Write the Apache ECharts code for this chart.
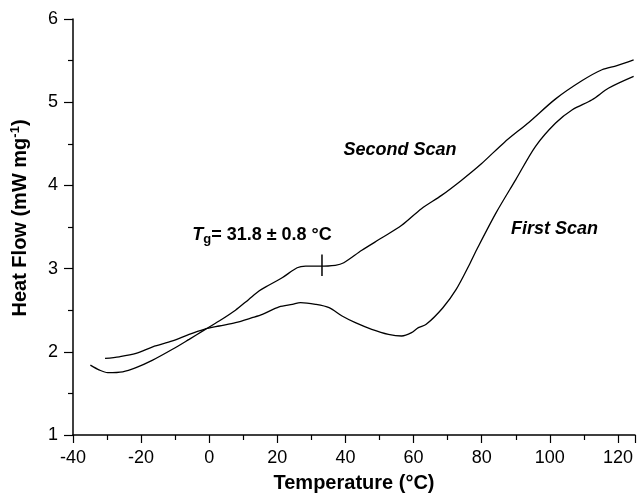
<!DOCTYPE html>
<html>
<head>
<meta charset="utf-8">
<script src="https://cdn.jsdelivr.net/npm/echarts@6/dist/echarts.min.js"></script>
<style>
html,body{margin:0;padding:0;background:#fff;}
#c{width:638px;height:498px;}
</style>
</head>
<body>
<div id="c"></div>
<script>
// First scan (°C, mW mg-1)
var firstScanT = [-30.6,-26.4,-21.5,-16.6,-10.8,-5.9,-1.5,2.9,7.7,12.6,15.6,20.5,24.4,26.8,31.2,35.2,39.0,42.9,47.7,52.6,56.5,59.4,61.4,63.7,68.6,72.5,76.4,78.8,84.2,90.0,95.8,101.7,106.6,112.4,117.3,124.6];
var firstScanHF = [1.92,1.94,1.98,2.06,2.13,2.21,2.27,2.31,2.35,2.41,2.45,2.54,2.57,2.59,2.57,2.53,2.43,2.35,2.27,2.21,2.19,2.23,2.29,2.33,2.53,2.75,3.05,3.25,3.67,4.07,4.47,4.75,4.91,5.03,5.17,5.31];
// Second scan
var secondScanT = [-34.9,-32.2,-29.8,-25.4,-21.5,-16.6,-10.8,-5.9,-1.5,2.9,7.7,11.6,14.6,16.6,21.4,25.8,28.3,32.2,37.0,39.5,44.8,50.7,56.5,62.3,68.2,74.0,79.9,86.7,93.9,101.7,109.5,115.3,119.7,124.6];
var secondScanHF = [1.84,1.78,1.75,1.76,1.81,1.90,2.03,2.15,2.26,2.37,2.50,2.63,2.73,2.78,2.89,3.01,3.03,3.03,3.04,3.07,3.22,3.37,3.52,3.72,3.88,4.06,4.26,4.52,4.76,5.04,5.26,5.39,5.44,5.51];
// Tg marker
var tgMarkT = [33.1, 33.1];
var tgMarkHF = [2.91, 3.17];
// Axis ticks
var xTicks = [-40,-20,0,20,40,60,80,100,120];
var yTicks = [1,2,3,4,5,6];
// Annotations: anchor (left edge, vertical middle) in data coordinates
var annotX = [-5.0, 39.4, 88.6];
var annotY = [3.40, 4.43, 3.48];
var annotText = ['{t|T}{s|g}{n|= 31.8 ± 0.8 °C}', '{i|Second Scan}', '{i|First Scan}'];

function zip(a, b) { return a.map(function (v, i) { return [v, b[i]]; }); }

var FONT = '"Liberation Sans", Arial, sans-serif';
var chart = echarts.init(document.getElementById('c'), null, {renderer: 'canvas'});

var richStyles = {
  t: {fontFamily: FONT, fontSize: 18, fontWeight: 'bold', fontStyle: 'italic', fill: '#000', color: '#000'},
  s: {fontFamily: FONT, fontSize: 13, fontWeight: 'bold', fill: '#000', color: '#000', padding: [8, 0, 0, 0]},
  n: {fontFamily: FONT, fontSize: 18, fontWeight: 'bold', fill: '#000', color: '#000'},
  i: {fontFamily: FONT, fontSize: 18, fontWeight: 'bold', fontStyle: 'italic', fill: '#000', color: '#000'}
};

chart.setOption({
  animation: false,
  backgroundColor: '#ffffff',
  textStyle: {fontFamily: FONT},
  grid: {left: 73, right: 0, top: 19, bottom: 63, containLabel: false},
  xAxis: {
    type: 'value', min: -40, max: 125, interval: 20,
    name: 'Temperature (°C)', nameLocation: 'middle', nameGap: 38,
    nameTextStyle: {fontFamily: FONT, fontSize: 20, fontWeight: 'bold', color: '#000'},
    axisLine: {show: true, onZero: false, lineStyle: {color: '#000', width: 1.5}},
    axisTick: {show: true, inside: false, length: 8, lineStyle: {color: '#000', width: 1.2}},
    minorTick: {show: true, splitNumber: 2, length: 5, lineStyle: {color: '#000', width: 1.2}},
    axisLabel: {fontFamily: FONT, fontSize: 18, color: '#000', margin: 14,
      formatter: function (v) { return xTicks.indexOf(v) >= 0 ? String(v) : ''; }},
    splitLine: {show: false}
  },
  yAxis: {
    type: 'value', min: 1, max: 6, interval: 1,
    name: '{a|Heat Flow (mW mg}{s|-1}{a|)}', nameLocation: 'middle', nameGap: 42, nameRotate: 90,
    nameTextStyle: {fontFamily: FONT, fontSize: 20, fontWeight: 'bold', color: '#000', padding: [0, 0, 0, 18],
      rich: {
        a: {fontFamily: FONT, fontSize: 20, fontWeight: 'bold', color: '#000'},
        s: {fontFamily: FONT, fontSize: 13, fontWeight: 'bold', color: '#000', padding: [0, 0, 9, 0]}
      }},
    axisLine: {show: true, onZero: false, lineStyle: {color: '#000', width: 1.5}},
    axisTick: {show: true, inside: false, length: 9, lineStyle: {color: '#000', width: 1.2}},
    minorTick: {show: true, splitNumber: 2, length: 5, lineStyle: {color: '#000', width: 1.2}},
    axisLabel: {fontFamily: FONT, fontSize: 18, color: '#000', margin: 15,
      formatter: function (v) { return yTicks.indexOf(v) >= 0 ? String(v) : ''; }},
    splitLine: {show: false}
  },
  series: [
    {name: 'First Scan', type: 'line', data: zip(firstScanT, firstScanHF), showSymbol: false, smooth: 0.3,
      lineStyle: {color: '#000', width: 1.3}},
    {name: 'Second Scan', type: 'line', data: zip(secondScanT, secondScanHF), showSymbol: false, smooth: 0.3,
      lineStyle: {color: '#000', width: 1.3}},
    {name: 'Tg mark', type: 'line', data: zip(tgMarkT, tgMarkHF), showSymbol: false,
      lineStyle: {color: '#000', width: 1.5}}
  ]
});

var gfx = annotX.map(function (x, i) {
  var p = chart.convertToPixel({gridIndex: 0}, [x, annotY[i]]);
  return {
    type: 'text', x: p[0], y: p[1], silent: true,
    style: {text: annotText[i], fill: '#000', align: 'left', verticalAlign: 'middle',
      font: 'bold 18px ' + FONT, rich: richStyles}
  };
});
chart.setOption({graphic: gfx});
</script>
</body>
</html>
